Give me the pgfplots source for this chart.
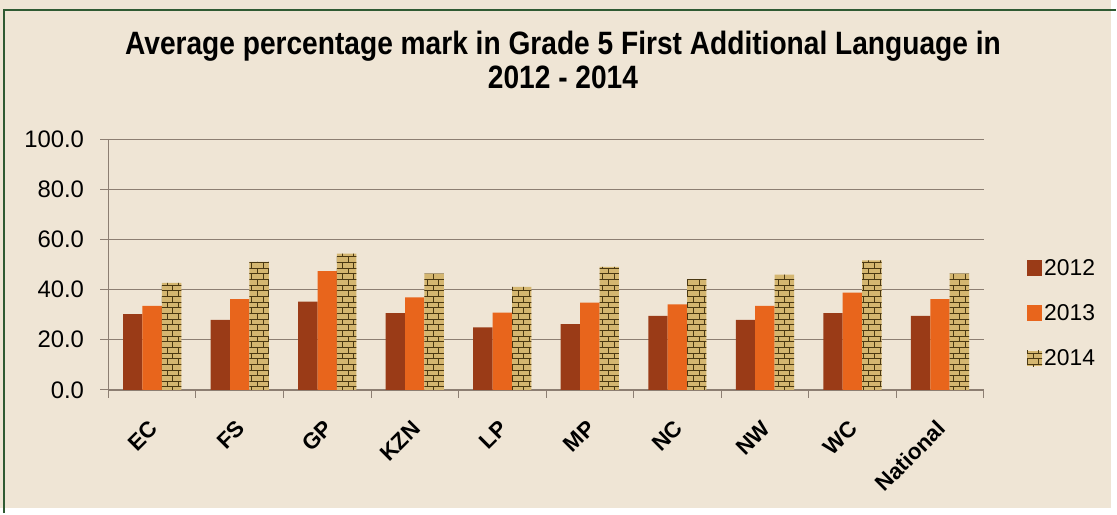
\documentclass[border=0pt]{standalone}
\usepackage{fontspec}
\setmainfont{Liberation Sans}
\newfontfamily\titlefont{Liberation Sans}[FakeStretch=0.87]
\usepackage{pgfplots}
\pgfplotsset{compat=1.18}
\usetikzlibrary{patterns}
\definecolor{bg}{HTML}{EFE5D5}
\definecolor{cA}{HTML}{9A3B17}
\definecolor{cB}{HTML}{E8651C}
\definecolor{cC}{HTML}{D4B670}
\definecolor{cCd}{HTML}{4A3812}
\definecolor{gridc}{HTML}{8C7E72}
\definecolor{framec}{HTML}{2F5A32}
\begin{document}
\begin{tikzpicture}[x=1pt,y=1pt]
\fill[bg] (0,0) rectangle (1117,511);
\draw[framec, line width=2pt] (4,-5) -- (4,501) -- (1122,501);
\node[font=\titlefont\bfseries\fontsize{32.5}{34}\selectfont, align=center] at (566,451) {Average percentage mark in Grade 5 First Additional Language in\\2012 - 2014};
\begin{axis}[
  at={(109pt,119pt)}, anchor=south west,
  scale only axis, width=880pt, height=252pt,
  ybar=0pt, bar width=19.5pt,
  xmin=-0.5, xmax=9.5, ymin=0, ymax=100,
  axis lines=left, axis line style={-, draw=gridc, line width=1.2pt},
  ytick={0,20,...,100},
  ymajorgrids, grid style={draw=gridc, line width=1.4pt},
  xtick={0,...,9},
  xticklabels={EC,FS,GP,KZN,LP,MP,NC,NW,WC,National},
  minor xtick={-0.5,0.5,...,9.5},
  tick align=outside,
  major tick length=8pt, minor tick length=8pt,
  every major x tick/.append style={draw=none},
  tick style={draw=gridc, line width=1pt},
  /pgf/number format/assume math mode=true,
  yticklabel style={/pgf/number format/.cd, fixed, fixed zerofill, precision=1, /tikz/.cd, font=\fontsize{24}{26}\selectfont, xshift=-13pt},
  xticklabel style={rotate=45, anchor=east, font=\bfseries\fontsize{22.5}{24}\selectfont, yshift=-20pt, xshift=-14.5pt},
  legend style={at={(1.046,0.306)}, anchor=west, draw=none, fill=none, row sep=24pt, font=\fontsize{23}{25}\selectfont, /tikz/every even column/.append style={column sep=7pt}},
  legend cell align=left,
  legend image code/.code={\fill[#1] (0pt,-8pt) rectangle (15pt,8pt);},
]
\addplot[fill=cA, draw=none] coordinates {(0,30.2) (1,27.9) (2,35.2) (3,30.6) (4,24.9) (5,26.2) (6,29.5) (7,27.9) (8,30.6) (9,29.5)};
\addplot[fill=cB, draw=none] coordinates {(0,33.5) (1,36.2) (2,47.4) (3,36.9) (4,30.8) (5,34.8) (6,34.1) (7,33.5) (8,38.8) (9,36.2)};
\addplot[fill=cC, draw=none, postaction={pattern=bricks, pattern color=cCd}] coordinates {(0,42.7) (1,51.1) (2,54.4) (3,46.4) (4,41.1) (5,49.1) (6,44.2) (7,46.0) (8,51.7) (9,46.4)};
\legend{2012,2013,2014}
\end{axis}
\end{tikzpicture}
\end{document}
